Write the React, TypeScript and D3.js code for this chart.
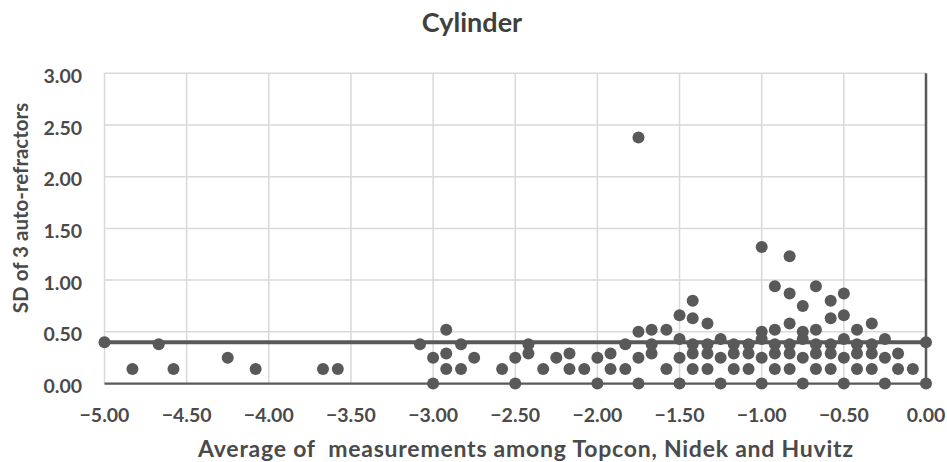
import React from "react";
import * as d3 from "d3";

const title = "Cylinder";
const xAxisTitle = "Average of  measurements among Topcon, Nidek and Huvitz";
const yAxisTitle = "SD of 3 auto-refractors";

const xTicks = [-5, -4.5, -4, -3.5, -3, -2.5, -2, -1.5, -1, -0.5, 0];
const yTicks = [0, 0.5, 1, 1.5, 2, 2.5, 3];

// scatter points (x = average cylinder, y = SD)
const xValues = [
  -4.83, -4.67, -4.58, -4.25, -4.08, -3.67, -3.58,
  -3.08, -3.0, -3.0, -2.92, -2.92, -2.92, -2.83, -2.83, -2.75,
  -2.58, -2.5, -2.5, -2.42, -2.42, -2.33, -2.25, -2.17, -2.17, -2.08,
  -2.0, -2.0, -1.92, -1.92, -1.83, -1.83,
  -1.75, -1.75, -1.75, -1.75,
  -1.67, -1.67, -1.67,
  -1.58, -1.58,
  -1.5, -1.5, -1.5, -1.5,
  -1.42, -1.42, -1.42, -1.42, -1.42,
  -1.33, -1.33, -1.33, -1.33,
  -1.25, -1.25, -1.25,
  -1.17, -1.17, -1.17,
  -1.08, -1.08, -1.08,
  -1.0, -1.0, -1.0, -1.0, -1.0,
  -0.92, -0.92, -0.92, -0.92, -0.92,
  -0.83, -0.83, -0.83, -0.83, -0.83, -0.83,
  -0.75, -0.75, -0.75, -0.75, -0.75,
  -0.67, -0.67, -0.67, -0.67, -0.67,
  -0.58, -0.58, -0.58, -0.58, -0.58,
  -0.5, -0.5, -0.5, -0.5, -0.5,
  -0.42, -0.42, -0.42, -0.42,
  -0.33, -0.33, -0.33, -0.33,
  -0.25, -0.25, -0.25,
  -0.17, -0.17,
  -0.08,
  0.0,
];
const yValues = [
  0.14, 0.38, 0.14, 0.25, 0.14, 0.14, 0.14,
  0.38, 0.25, 0.0, 0.52, 0.29, 0.14, 0.38, 0.14, 0.25,
  0.14, 0.25, 0.0, 0.38, 0.29, 0.14, 0.25, 0.29, 0.14, 0.14,
  0.25, 0.0, 0.29, 0.14, 0.38, 0.14,
  2.38, 0.5, 0.25, 0.0,
  0.52, 0.38, 0.29,
  0.52, 0.14,
  0.66, 0.43, 0.25, 0.0,
  0.8, 0.63, 0.38, 0.29, 0.14,
  0.58, 0.38, 0.29, 0.14,
  0.43, 0.25, 0.0,
  0.38, 0.29, 0.14,
  0.38, 0.29, 0.14,
  1.32, 0.5, 0.43, 0.25, 0.0,
  0.94, 0.52, 0.38, 0.29, 0.14,
  1.23, 0.87, 0.58, 0.38, 0.29, 0.14,
  0.75, 0.5, 0.43, 0.25, 0.0,
  0.94, 0.52, 0.38, 0.29, 0.14,
  0.8, 0.63, 0.38, 0.29, 0.14,
  0.87, 0.66, 0.43, 0.25, 0.0,
  0.52, 0.38, 0.29, 0.14,
  0.58, 0.38, 0.29, 0.14,
  0.43, 0.25, 0.0,
  0.29, 0.14,
  0.14,
  0.0,
];

// mean SD line
const meanX = [-5, 0];
const meanY = [0.4, 0.4];

const W = 947;
const H = 462;
const M = { left: 104.5, right: 926, top: 73.3, bottom: 383.5 };
const FONT = "Lato, 'Open Sans', sans-serif";
const DARK = "#595959";
const TEXT = "#4a4a4a";

export default function App() {
  const x = d3.scaleLinear().domain([-5, 0]).range([M.left, M.right]);
  const y = d3.scaleLinear().domain([0, 3]).range([M.bottom, M.top]);
  const fmt = d3.format(".2f");
  const meanPts = meanX.map((v, i) => [v, meanY[i]] as [number, number]);
  const line = d3
    .line<[number, number]>()
    .x((d) => x(d[0]))
    .y((d) => y(d[1]));

  return (
    <svg
      width={W}
      height={H}
      style={{ position: "absolute", left: 0, top: 0, background: "#fff" }}
      fontFamily={FONT}
    >
      <rect x={0} y={0} width={W} height={H} fill="#fff" />
      {/* grid */}
      {xTicks.filter((t) => t !== 0).map((t) => (
        <line key={"gx" + t} x1={x(t)} x2={x(t)} y1={y(3)} y2={y(0)} stroke="#d9d9d9" strokeWidth={1.5} />
      ))}
      {yTicks.filter((t) => t !== 0).map((t) => (
        <line key={"gy" + t} x1={x(-5)} x2={x(0)} y1={y(t)} y2={y(t)} stroke="#d9d9d9" strokeWidth={1.5} />
      ))}
      {/* axis lines */}
      <line x1={x(-5)} x2={x(0)} y1={y(0)} y2={y(0)} stroke={DARK} strokeWidth={2.25} />
      <line x1={x(0)} x2={x(0)} y1={y(3)} y2={y(0)} stroke={DARK} strokeWidth={2.5} />
      {/* mean line */}
      <path d={line(meanPts) || ""} fill="none" stroke={DARK} strokeWidth={4} />
      {/* points */}
      {xValues.map((xv, i) => (
        <circle key={"p" + i} cx={x(xv)} cy={y(yValues[i])} r={6} fill={DARK} />
      ))}
      {meanPts.map((d, i) => (
        <circle key={"m" + i} cx={x(d[0])} cy={y(d[1])} r={6} fill={DARK} />
      ))}
      {/* tick labels */}
      {yTicks.map((t) => (
        <text key={"ty" + t} x={82} y={y(t) + 2} textAnchor="end" dominantBaseline="central" fontSize={19.5} fontWeight="bold" fill={TEXT}>
          {fmt(t)}
        </text>
      ))}
      {xTicks.map((t) => (
        <text key={"tx" + t} x={x(t)} y={414} textAnchor="middle" dominantBaseline="central" fontSize={19.5} fontWeight="bold" fill={TEXT}>
          {fmt(t)}
        </text>
      ))}
      {/* titles */}
      <text x={472} y={32} textAnchor="middle" fontSize={27} fontWeight="bold" fill="#404040">
        {title}
      </text>
      <text
        x={525.5}
        y={457}
        textAnchor="middle"
        fontSize={23}
        fontWeight="bold"
        fill={TEXT}
        textLength={655}
        lengthAdjust="spacing"
        style={{ whiteSpace: "pre" }}
      >
        {xAxisTitle}
      </text>
      <text
        transform={`translate(28, 208) rotate(-90)`}
        textAnchor="middle"
        fontSize={20.5}
        fontWeight="bold"
        fill={TEXT}
      >
        {yAxisTitle}
      </text>
    </svg>
  );
}
